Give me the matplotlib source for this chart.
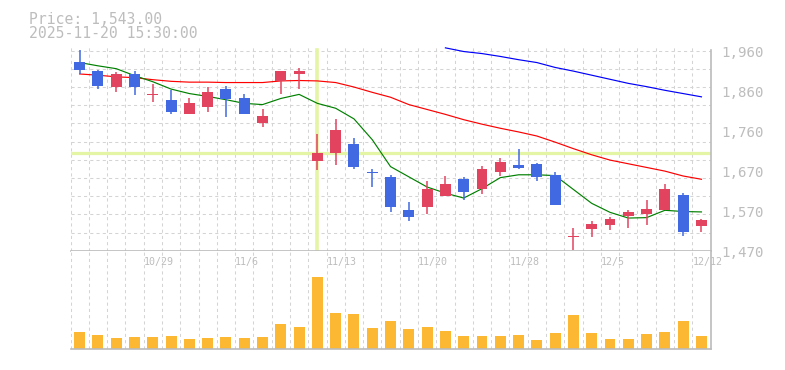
import numpy as np
import matplotlib.pyplot as plt
from matplotlib import transforms

plt.rcParams['font.family'] = ['DejaVu Sans Mono']

# trading days (2025)
dates = ['10/23', '10/24', '10/27', '10/28', '10/29', '10/30', '10/31', '11/4', '11/5', '11/6',
         '11/7', '11/10', '11/11', '11/12', '11/13', '11/14', '11/17', '11/18', '11/19', '11/20',
         '11/21', '11/25', '11/26', '11/27', '11/28', '12/1', '12/2', '12/3', '12/4', '12/5',
         '12/8', '12/9', '12/10', '12/11', '12/12']
shown_dates = ['10/29', '11/6', '11/13', '11/20', '11/28', '12/5', '12/12']

opens = [1933, 1911, 1872, 1904, 1851, 1840, 1806, 1821, 1867, 1845,
         1782, 1886, 1902, 1689, 1710, 1732, 1663, 1651, 1570, 1576,
         1603, 1646, 1620, 1662, 1680, 1683, 1656, 1503, 1522, 1532,
         1556, 1559, 1569, 1607, 1530]
highs = [1962, 1913, 1908, 1910, 1879, 1863, 1845, 1872, 1874, 1855,
         1818, 1911, 1918, 1756, 1793, 1747, 1671, 1656, 1590, 1641,
         1654, 1651, 1678, 1698, 1720, 1686, 1663, 1526, 1543, 1553,
         1570, 1595, 1634, 1612, 1548]
lows = [1903, 1867, 1860, 1852, 1835, 1804, 1804, 1809, 1797, 1804,
        1772, 1853, 1867, 1667, 1681, 1669, 1627, 1566, 1542, 1559,
        1603, 1594, 1608, 1652, 1669, 1640, 1581, 1471, 1503, 1520,
        1525, 1532, 1569, 1505, 1517]
closes = [1912, 1874, 1904, 1870, 1855, 1809, 1833, 1860, 1841, 1804,
          1801, 1911, 1910, 1710, 1766, 1676, 1661, 1576, 1552, 1622,
          1634, 1613, 1671, 1688, 1672, 1650, 1581, 1506, 1536, 1548,
          1565, 1573, 1622, 1517, 1545]
volume = [173, 140, 110, 120, 120, 130, 100, 110, 120, 110,
          120, 253, 220, 723, 363, 353, 210, 283, 200, 220,
          180, 130, 130, 130, 140, 90, 160, 340, 160, 100,
          100, 150, 170, 280, 130]

ma_short = [1931, 1923, 1916, 1899, 1884, 1866, 1855, 1848, 1840, 1831,
            1828, 1843, 1853, 1831, 1819, 1793, 1742, 1676, 1651, 1626,
            1611, 1599, 1622, 1649, 1656, 1656, 1654, 1620, 1586, 1564,
            1550, 1551, 1569, 1566, 1565]
ma_mid = [1903, 1900, 1896, 1894, 1889, 1885, 1883, 1883, 1882, 1882,
          1882, 1886, 1887, 1886, 1882, 1871, 1858, 1846, 1828, 1816,
          1804, 1791, 1780, 1770, 1761, 1751, 1736, 1720, 1705, 1692,
          1683, 1674, 1665, 1653, 1645]
ma_long = [np.nan] * 20 + [1967, 1958, 1953, 1946, 1938, 1931, 1919, 1910, 1900, 1890,
                           1880, 1872, 1863, 1855, 1847]

price_ticks = [1470, 1568, 1666, 1764, 1862, 1960]
price_tick_labels = ['1,470', '1,570', '1,670', '1,760', '1,860', '1,960']

cursor_date = '11/12'
cursor_price = 1710
header = ['Price: 1,543.00', '2025-11-20 15:30:00']

up_color = '#e2445f'
down_color = '#4169e1'
vol_color = '#fcb733'
grid_color = '#d4d4d4'
text_color = '#bdbdbd'
frame_color = '#bbbbbb'
cross_color = '#e4f5a6'

n = len(dates)
x = np.arange(n)

fig = plt.figure(figsize=(7.85, 3.7), dpi=100)
ax = fig.add_axes([70.5 / 785, 119.3 / 370, 640.1 / 785, 205.7 / 370])
axv = fig.add_axes([70.5 / 785, 20.7 / 370, 640.1 / 785, 98.6 / 370])

grid_kw = dict(color=grid_color, linewidth=0.75, linestyle=(0, (3, 3)))

for a in (ax, axv):
    a.set_xlim(-0.5, n - 0.5)
    for b in np.arange(-0.5, n, 1.0):
        a.axvline(b, zorder=0, **grid_kw)
    a.set_xticks([])
    for s in ('top', 'left'):
        a.spines[s].set_visible(False)
    for s in ('right', 'bottom'):
        a.spines[s].set_color(frame_color)
        a.spines[s].set_linewidth(1.2)

# price panel
ax.set_ylim(1470, 1974)
ax.set_yticks([])
ax.spines['right'].set_bounds(1470, 1962)
for g in np.linspace(1470, 1960, 12)[1:]:
    ax.axhline(g, zorder=0, **grid_kw)

ci = dates.index(cursor_date)
ax.axhline(cursor_price, color=cross_color, linewidth=2.3, zorder=1)
ax.plot([ci, ci], [1471, 1961], color=cross_color, linewidth=2.6, zorder=1)

ax.plot(x, ma_mid, color='#ff0000', linewidth=0.85, zorder=2)
ax.plot(x, ma_long, color='#0000ff', linewidth=0.85, zorder=2)
ax.plot(x, ma_short, color='#008000', linewidth=0.85, zorder=2)

for i in range(n):
    o, h, l, c = opens[i], highs[i], lows[i], closes[i]
    col = up_color if c >= o else down_color
    ax.plot([i, i], [l, h], color=col, linewidth=1.1, zorder=3, solid_capstyle='butt')
    body = max(abs(c - o), 2.5)
    ax.bar(i, body, width=0.6, bottom=min(o, c), color=col, zorder=4, linewidth=0)

for v, lab in zip(price_ticks, price_tick_labels):
    t = ax.text(721 / 785, v, lab, transform=transforms.blended_transform_factory(fig.transFigure, ax.transData),
                ha='left', va='center', fontsize=10.2, color=text_color)
    t.set_transform(t.get_transform() + transforms.ScaledTranslation(0, -2.3 / 100, fig.dpi_scale_trans))

# volume panel
axv.set_ylim(0, 986)
axv.set_yticks([])
axv.bar(x, volume, width=0.6, color=vol_color, zorder=2, linewidth=0)

for d in shown_dates:
    i = dates.index(d)
    axv.text(i - 0.5, 1 - 6.8 / 98.6, d, transform=transforms.blended_transform_factory(axv.transData, axv.transAxes),
             ha='left', va='top', fontsize=7.2, color=text_color, zorder=5)

fig.text(29 / 785, 1 - 11.5 / 370, header[0], ha='left', va='top', fontsize=10.6, color=text_color)
fig.text(29 / 785, 1 - 26.5 / 370, header[1], ha='left', va='top', fontsize=10.6, color=text_color)

fig.savefig('out.png', dpi=100)
